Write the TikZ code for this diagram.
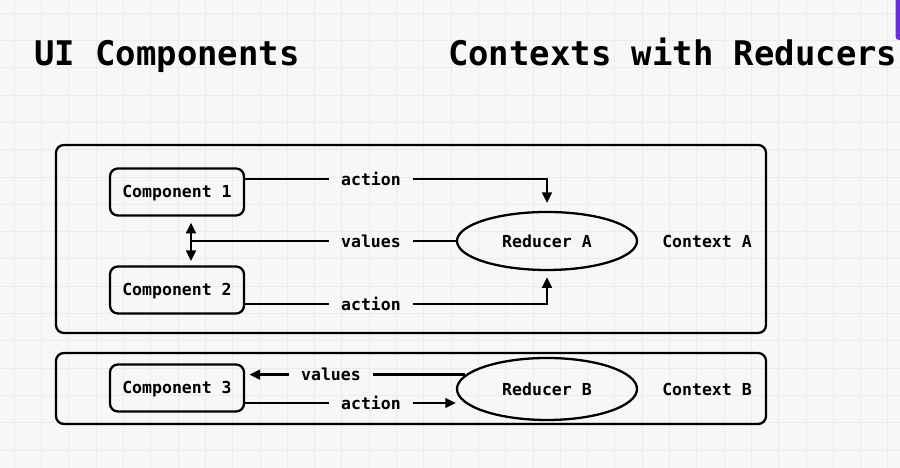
\documentclass[tikz,border=0pt]{standalone}
\usepackage{fontspec}
\setmainfont{DejaVu Sans Mono}
\usepackage{tikz}
\usetikzlibrary{positioning,arrows.meta,calc,shapes.geometric}
\usepackage{xcolor}
\definecolor{paper}{HTML}{F7F7F7}
\definecolor{gridline}{HTML}{EBEBEB}
\definecolor{tabpurple}{HTML}{6B2BDE}

\begin{document}
\begin{tikzpicture}[>={Triangle[length=6pt,width=5.5pt]},line width=1.3pt,
  comp/.style={draw,rounded corners=4.5pt,minimum width=2.68cm,minimum height=0.94cm,inner sep=2pt,text depth=0.5pt,font=\bfseries\fontsize{9.4}{11}\selectfont},
  reducer/.style={draw,ellipse,minimum width=3.6cm,inner sep=1pt,font=\bfseries\fontsize{9.4}{11}\selectfont},
  lbl/.style={inner xsep=6pt,inner ysep=1pt,font=\bfseries\fontsize{9.4}{11}\selectfont},
  heading/.style={anchor=base west,inner sep=0pt,font=\bfseries\fontsize{19.3}{22}\selectfont}]
\useasboundingbox (0,0) rectangle (18,9.36);
\fill[paper] (0,0) rectangle (18,9.36);
\draw[gridline,line width=0.5pt,shift={(0.286,0.36)}] (-0.286,-0.36) grid[step=0.546] (17.714,9.0);
\fill[tabpurple,rounded corners=2pt] (17.91,8.56) rectangle (18.2,9.5);

\node[heading] (uititle) at (0.66,8.04) {UI Components};
\node[heading] (ctxtitle) at (8.94,8.04) {Contexts with Reducers};

% context A
\draw[rounded corners=4.5pt] (1.12,2.70) rectangle (15.32,6.46);
\node[comp] (c1) at (3.54,5.52) {Component 1};
\node[comp] (c2) at (3.54,3.56) {Component 2};
\node[reducer,minimum height=1.16cm] (ra) at (10.94,4.54) {Reducer A};
\node[lbl] (ctxa) at (14.14,4.54) {Context A};
\node[lbl] (act1) at (7.42,5.78) {action};
\node[lbl] (val1) at (7.42,4.54) {values};
\node[lbl] (act2) at (7.42,3.28) {action};
\coordinate (split) at (3.82,4.54);

\draw (c1.east |- act1) -- (act1.west);
\draw[->,shorten >=4.5pt] (act1.east) -| (ra.north);
\draw (ra.west) -- (val1.east);
\draw (val1.west) -- (split);
\draw[<->,shorten <=3.5pt,shorten >=2.5pt] (split |- c1.south) -- (split |- c2.north);
\draw (c2.east |- act2) -- (act2.west);
\draw[->,shorten >=3.5pt] (act2.east) -| (ra.south);

% context B
\draw[rounded corners=4.5pt] (1.12,0.88) rectangle (15.32,2.30);
\node[comp] (c3) at (3.54,1.60) {Component 3};
\node[reducer,minimum height=1.24cm] (rb) at (10.94,1.58) {Reducer B};
\node[lbl] (ctxb) at (14.14,1.58) {Context B};
\node[lbl] (act3) at (7.42,1.30) {action};
\node[lbl,xshift=-0.8cm] (val3) at (rb.170 -| act3) {values};

\draw (rb.170) -- (val3.east);
\draw[->,shorten >=2.5pt] (val3.west) -- (c3.east |- val3.west);
\draw (c3.east |- act3) -- (act3.west);
\draw[->] (act3.east) -- (act3.east -| rb.west);
\end{tikzpicture}
\end{document}
